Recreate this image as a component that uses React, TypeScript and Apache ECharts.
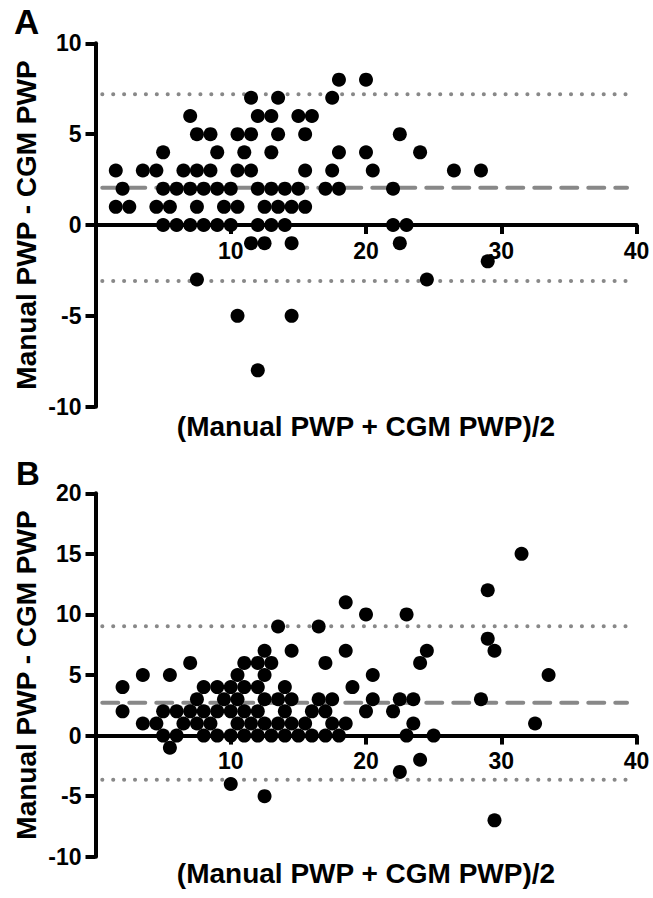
import React, { useEffect, useRef } from "react";
import * as echarts from "echarts";

// Panel A: [mean of methods, difference]
const panelA: [number, number][] = [
  [18, 8], [20, 8],
  [11.5, 7], [13.5, 7], [17.5, 7],
  [7, 6], [12, 6], [13, 6], [15, 6], [16, 6],
  [7.5, 5], [8.5, 5], [10.5, 5], [11.5, 5], [13.5, 5], [15.5, 5], [22.5, 5],
  [5, 4], [9, 4], [11, 4], [13, 4], [18, 4], [20, 4], [24, 4],
  [1.5, 3], [3.5, 3], [4.5, 3], [6.5, 3], [7.5, 3], [8.5, 3], [10.5, 3], [11.5, 3], [15.5, 3], [17.5, 3], [20.5, 3], [26.5, 3], [28.5, 3],
  [2, 2], [5, 2], [6, 2], [7, 2], [8, 2], [9, 2], [10, 2], [12, 2], [13, 2], [14, 2], [15, 2], [17, 2], [18, 2], [22, 2],
  [1.5, 1], [2.5, 1], [4.5, 1], [5.5, 1], [7.5, 1], [9.5, 1], [10.5, 1], [12.5, 1], [13.5, 1], [14.5, 1], [15.5, 1],
  [5, 0], [6, 0], [7, 0], [8, 0], [9, 0], [10, 0], [12, 0], [13, 0], [14, 0], [22, 0], [23, 0],
  [11.5, -1], [12.5, -1], [14.5, -1], [22.5, -1],
  [29, -2],
  [7.5, -3], [24.5, -3],
  [10.5, -5], [14.5, -5],
  [12, -8],
];

// Panel B: [mean of methods, difference]
const panelB: [number, number][] = [
  [31.5, 15],
  [29, 12],
  [18.5, 11],
  [20, 10], [23, 10],
  [13.5, 9], [16.5, 9],
  [29, 8],
  [12.5, 7], [14.5, 7], [18.5, 7], [24.5, 7], [29.5, 7],
  [7, 6], [11, 6], [12, 6], [13, 6], [17, 6], [24, 6],
  [3.5, 5], [5.5, 5], [10.5, 5], [12.5, 5], [20.5, 5], [33.5, 5],
  [2, 4], [8, 4], [9, 4], [10, 4], [11, 4], [12, 4], [14, 4], [19, 4],
  [7.5, 3], [9.5, 3], [10.5, 3], [12.5, 3], [13.5, 3], [14.5, 3], [16.5, 3], [17.5, 3], [20.5, 3], [22.5, 3], [23.5, 3], [28.5, 3],
  [2, 2], [5, 2], [6, 2], [7, 2], [8, 2], [9, 2], [10, 2], [11, 2], [12, 2], [14, 2], [16, 2], [17, 2], [20, 2], [22, 2],
  [3.5, 1], [4.5, 1], [6.5, 1], [7.5, 1], [8.5, 1], [10.5, 1], [11.5, 1], [12.5, 1], [13.5, 1], [14.5, 1], [15.5, 1], [17.5, 1], [18.5, 1], [23.5, 1], [32.5, 1],
  [5, 0], [6, 0], [8, 0], [9, 0], [10, 0], [11, 0], [12, 0], [13, 0], [14, 0], [15, 0], [16, 0], [17, 0], [18, 0], [23, 0], [25, 0],
  [5.5, -1],
  [24, -2],
  [22.5, -3],
  [10, -4],
  [12.5, -5],
  [29.5, -7],
];

// Bias and limits of agreement: [upper, mean, lower]
const limitsA = [7.2, 2.05, -3.08];
const limitsB = [9.03, 2.7, -3.64];
const lineSpan = [0.5, 39.3];

const xTicks = { min: 0, max: 40, interval: 10 };
const yTicksA = { min: -10, max: 10, interval: 5 };
const yTicksB = { min: -10, max: 20, interval: 5 };

const xTitle = "(Manual PWP + CGM PWP)/2";
const yTitle = "Manual PWP - CGM PWP";
const panelLabels = ["A", "B"];

const FONT = '"Liberation Sans", Arial, Helvetica, sans-serif';

export default function App() {
  const ref = useRef<HTMLDivElement>(null);

  useEffect(() => {
    if (!ref.current) return;
    const chart = echarts.init(ref.current, null, { renderer: "svg" });

    const grids = [
      { left: 95.5, width: 541, top: 43.3, height: 363.4 },
      { left: 95.5, width: 541, top: 493.3, height: 363.4 },
    ];

    // distance (px) from grid bottom up to the y = 0 line
    const zeroOffset = (gi: number, ticks: { min: number; max: number }) =>
      -(grids[gi].height * (0 - ticks.min)) / (ticks.max - ticks.min);

    const makeX = (gi: number, yt: { min: number; max: number }) => ({
      type: "value",
      gridIndex: gi,
      ...xTicks,
      position: "bottom",
      offset: zeroOffset(gi, yt),
      axisLine: { show: true, onZero: false, lineStyle: { color: "#000", width: 4 } },
      axisTick: { show: true, length: 9, lineStyle: { color: "#000", width: 4 } },
      axisLabel: {
        formatter: (v: number) => (v === 0 ? "" : String(v)),
        color: "#000",
        fontSize: 23,
        fontWeight: "bold",
        fontFamily: FONT,
        margin: 14,
      },
      splitLine: { show: false },
    });

    const makeY = (gi: number, ticks: any) => ({
      type: "value",
      gridIndex: gi,
      ...ticks,
      axisLine: { show: true, lineStyle: { color: "#000", width: 4 } },
      axisTick: { show: true, length: 10, lineStyle: { color: "#000", width: 4 } },
      axisLabel: {
        color: "#000",
        fontSize: 23,
        fontWeight: "bold",
        fontFamily: FONT,
        margin: 14,
      },
      splitLine: { show: false },
    });

    const refLine = (gi: number, value: number, dashed: boolean) => ({
      type: "line",
      xAxisIndex: gi,
      yAxisIndex: gi,
      data: [
        [lineSpan[0], value],
        [lineSpan[1], value],
      ],
      symbol: "none",
      silent: true,
      z: 1,
      lineStyle: dashed
        ? { color: "#888", width: 4, type: [16, 11], cap: "round", opacity: 1 }
        : { color: "#888", width: 4, type: [0.1, 10.8], cap: "round", opacity: 1 },
    });

    const scatter = (gi: number, pts: [number, number][]) => ({
      type: "scatter",
      xAxisIndex: gi,
      yAxisIndex: gi,
      data: pts,
      symbol: "circle",
      symbolSize: 14,
      itemStyle: { color: "#000", opacity: 1 },
      z: 5,
    });

    const titleFont = `bold 28px ${FONT}`;

    const option = {
      animation: false,
      backgroundColor: "#fff",
      grid: grids,
      xAxis: [makeX(0, yTicksA), makeX(1, yTicksB)],
      yAxis: [makeY(0, yTicksA), makeY(1, yTicksB)],
      series: [
        refLine(0, limitsA[0], false),
        refLine(0, limitsA[1], true),
        refLine(0, limitsA[2], false),
        scatter(0, panelA),
        refLine(1, limitsB[0], false),
        refLine(1, limitsB[1], true),
        refLine(1, limitsB[2], false),
        scatter(1, panelB),
      ],
      graphic: [
        { type: "text", left: 14, top: 4, style: { text: panelLabels[0], font: `bold 35px ${FONT}`, fill: "#000" } },
        { type: "text", left: 16, top: 457, style: { text: panelLabels[1], font: `bold 33px ${FONT}`, fill: "#000" } },
        {
          type: "text", x: 26, y: 225, rotation: Math.PI / 2,
          style: { text: yTitle, font: titleFont, fill: "#000", align: "center", verticalAlign: "middle" },
        },
        {
          type: "text", x: 26, y: 675, rotation: Math.PI / 2,
          style: { text: yTitle, font: titleFont, fill: "#000", align: "center", verticalAlign: "middle" },
        },
        {
          type: "text", x: 366, y: 426,
          style: { text: xTitle, font: titleFont, fill: "#000", align: "center", verticalAlign: "middle" },
        },
        {
          type: "text", x: 366, y: 873,
          style: { text: xTitle, font: titleFont, fill: "#000", align: "center", verticalAlign: "middle" },
        },
      ],
    };

    chart.setOption(option as any);
    return () => chart.dispose();
  }, []);

  return (
    <div
      ref={ref}
      style={{ position: "absolute", left: 0, top: 0, width: 653, height: 898, background: "#fff" }}
    />
  );
}
